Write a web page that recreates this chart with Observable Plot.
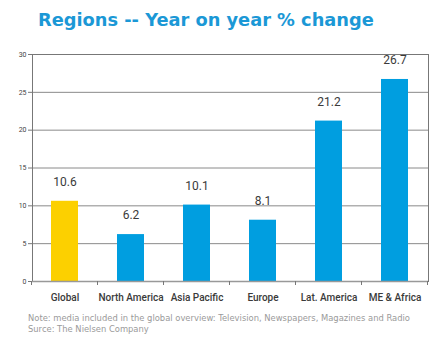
<!DOCTYPE html>
<html>
<head>
<meta charset="utf-8">
<script src="https://cdn.jsdelivr.net/npm/d3@7"></script>
<script src="https://cdn.jsdelivr.net/npm/@observablehq/plot@0.6"></script>
<style>
  body { margin: 0; background: #fff; width: 441px; height: 350px; overflow: hidden; }
  #title { font-family: "DejaVu Sans", sans-serif; font-weight: bold; font-size: 17.8px; color: #1b98d6; height: 45px; padding-left: 38px; line-height: 40px; box-sizing: border-box; white-space: nowrap; }
  .note { font-family: "DejaVu Sans", sans-serif; font-size: 8.4px; color: #9a9a9a; padding-left: 28px; height: 10.5px; line-height: 10.5px; white-space: nowrap; }
  #notes { margin-top: 3px; }
  svg { display: block; }
</style>
</head>
<body>
<div id="title">Regions -- Year on year % change</div>
<div id="chart"></div>
<div id="notes">
  <div class="note">Note: media included in the global overview: Television, Newspapers, Magazines and Radio</div>
  <div class="note">Surce: The Nielsen Company</div>
</div>
<script>
const regions = ["Global", "North America", "Asia Pacific", "Europe", "Lat. America", "ME & Africa"];
const changes = [10.6, 6.2, 10.1, 8.1, 21.2, 26.7];
const colors = ["#fcd000", "#009ee0", "#009ee0", "#009ee0", "#009ee0", "#009ee0"];
const yTicks = [0, 5, 10, 15, 20, 25, 30];

const data = regions.map((r, i) => ({region: r, value: changes[i], color: colors[i]}));

const bandTicks = (index, scales, values, dims) => {
  const g = d3.create("svg:g");
  const bw = scales.x.bandwidth ? scales.x.bandwidth() : 0;
  const step = scales.x.step ? scales.x.step() : bw;
  const y0 = scales.y(0);
  const xs = [];
  regions.forEach(r => xs.push(scales.x(r) - (step - bw) / 2));
  xs.push(scales.x(regions[regions.length - 1]) + bw + (step - bw) / 2);
  xs.forEach(x => g.append("line").attr("x1", x).attr("x2", x).attr("y1", y0).attr("y2", y0 + 4).attr("stroke", "#777").attr("stroke-width", 1));
  return g.node();
};

const chart = Plot.plot({
  width: 441,
  height: 265,
  marginLeft: 32,
  marginRight: 13,
  marginTop: 9,
  marginBottom: 29,
  style: {fontFamily: "Roboto, 'Liberation Sans', sans-serif", background: "#fff"},
  x: {domain: regions, paddingInner: 0.59, paddingOuter: 0.295, label: null},
  y: {domain: [0, 30], label: null},
  marks: [
    Plot.ruleY(yTicks.filter(d => d > 0), {stroke: "#8a8a8a", strokeWidth: 1, strokeOpacity: 1}),
    Plot.barY(data, {x: "region", y: "value", fill: "color"}),
    Plot.axisY({ticks: yTicks, tickSize: 4, tickPadding: 2, fontSize: 7, stroke: "#777", fill: "#444"}),
    Plot.axisX({tickSize: 0, tickPadding: 12, fontSize: 10, fill: "#3a3a3a", fontWeight: 500, letterSpacing: "-0.3px"}),
    Plot.frame({stroke: "#777", strokeWidth: 1}),
    Plot.ruleY([0], {stroke: "#999", strokeWidth: 1.5}),
    bandTicks,
    Plot.text(data, {x: "region", y: "value", text: d => d.value.toFixed(1), dy: -19, fontSize: 12, fill: "#3a3a3a", letterSpacing: "-0.3px"})
  ]
});
document.getElementById("chart").appendChild(chart);
</script>
</body>
</html>
